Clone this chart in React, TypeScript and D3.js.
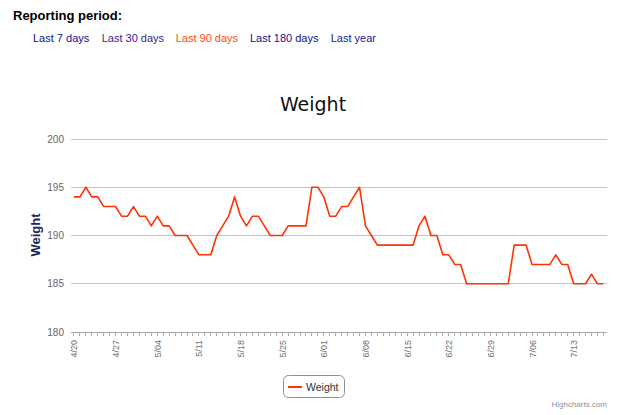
import React from "react";
import * as d3 from "d3";

const startDate = "2013-04-20";
const weights = [
  194, 194, 195, 194, 194, 193, 193, 193, 192, 192, 193, 192, 192, 191, 192, 191, 191, 190, 190, 190,
  189, 188, 188, 188, 190, 191, 192, 194, 192, 191, 192, 192, 191, 190, 190, 190, 191, 191, 191, 191,
  195, 195, 194, 192, 192, 193, 193, 194, 195, 191, 190, 189, 189, 189, 189, 189, 189, 189, 191, 192,
  190, 190, 188, 188, 187, 187, 185, 185, 185, 185, 185, 185, 185, 185, 189, 189, 189, 187, 187, 187,
  187, 188, 187, 187, 185, 185, 185, 186, 185, 185,
];
const yTicks = [180, 185, 190, 195, 200];
const xTickLabels = ["4/20", "4/27", "5/04", "5/11", "5/18", "5/25", "6/01", "6/08", "6/15", "6/22", "6/29", "7/06", "7/13"];
const periods = ["Last 7 days", "Last 30 days", "Last 90 days", "Last 180 days", "Last year"];
const periodColors = ["#10108f", "#3b1c88", "#ff4a12", "#10108f", "#10209a"];
const periodX = [33, 101.7, 175.7, 250, 330.7];

const DAY = 86400000;

export default function App() {
  const t0 = new Date(startDate + "T00:00:00Z").getTime();
  const data = weights.map((w, i) => ({ date: new Date(t0 + i * DAY), w }));
  const left = 71, right = 607, top = 139, bottom = 332;

  const x = d3
    .scaleUtc()
    .domain([new Date(t0 - 0.5 * DAY), new Date(t0 + 89.6 * DAY)])
    .range([left, right]);
  const y = d3.scaleLinear().domain([180, 200]).range([bottom, top]);

  const line = d3
    .line<{ date: Date; w: number }>()
    .x((d) => x(d.date))
    .y((d) => y(d.w));

  const dayTicks = data.map((d) => d.date);
  const labelTicks = xTickLabels.map((lab, k) => ({ lab, date: new Date(t0 + k * 7 * DAY) }));

  const font = "'Liberation Sans', Arial, sans-serif";

  return (
    <svg
      width={640}
      height={415}
      style={{ position: "absolute", left: 0, top: 0, background: "#fff" }}
      fontFamily={font}
    >
      <text x={13} y={19.5} fontSize={13} fontWeight="bold" fill="#000">
        Reporting period:
      </text>
      {periods.map((p, i) => (
        <text key={p} x={periodX[i]} y={42} fontSize={11} fill={periodColors[i]}>
          {p}
        </text>
      ))}

      <text x={313} y={111} fontSize={19} textAnchor="middle" fill="#111" fontFamily="'DejaVu Sans', sans-serif">
        Weight
      </text>

      {yTicks.map((t) => (
        <g key={t}>
          <line x1={left} x2={right} y1={y(t)} y2={y(t)} stroke={t === 180 ? "#a8a8a8" : "#c4c4c4"} strokeWidth={1} shapeRendering="crispEdges" />
          <text x={64} y={y(t)} dy="0.35em" fontSize={10} textAnchor="end" fill="#666">
            {t}
          </text>
        </g>
      ))}

      {dayTicks.map((d, i) => (
        <line key={i} x1={x(d)} x2={x(d)} y1={bottom} y2={bottom + 4} stroke="#b0b0b0" strokeWidth={1} shapeRendering="crispEdges" />
      ))}

      {labelTicks.map(({ lab, date }) => (
        <text
          key={lab}
          transform={`translate(${x(date) + 3.5},${bottom + 8}) rotate(-90)`}
          fontSize={9}
          textAnchor="end"
          fill="#707070"
        >
          {lab}
        </text>
      ))}

      <text
        transform={`translate(40,235) rotate(-90)`}
        fontSize={13}
        fontWeight="bold"
        textAnchor="middle"
        fill="#1b2a5b"
      >
        Weight
      </text>

      <path d={line(data) || ""} fill="none" stroke="#ff3300" strokeWidth={1.6} strokeLinejoin="round" />

      <rect x={283.5} y={375.5} width={61} height={22} rx={5} fill="#fff" stroke="#909090" strokeWidth={1} />
      <line x1={288} x2={302} y1={387} y2={387} stroke="#ff3300" strokeWidth={2} />
      <text x={306} y={391} fontSize={10.5} fill="#333">
        Weight
      </text>

      <text x={607} y={407} fontSize={8} textAnchor="end" fill="#909090">
        Highcharts.com
      </text>
    </svg>
  );
}
